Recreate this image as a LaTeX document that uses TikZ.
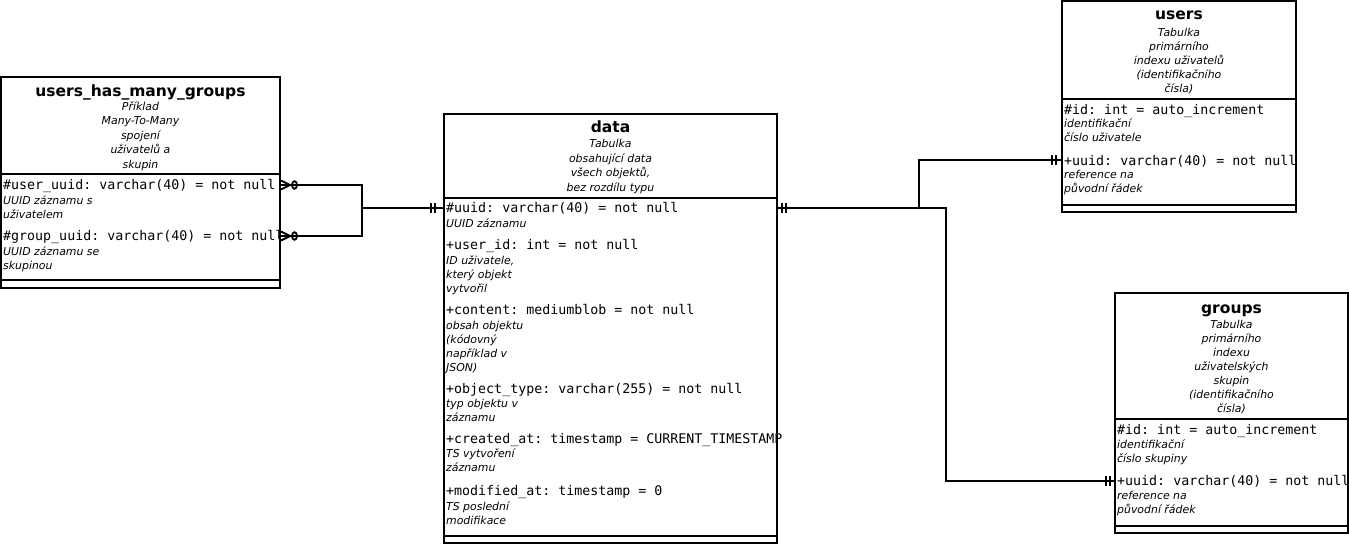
\documentclass[tikz,border=0pt]{standalone}
\usepackage{fontspec}
\setmainfont{DejaVu Sans}
\setmonofont{DejaVu Sans Mono}
\usetikzlibrary{calc}
\newcommand\tlines[6]{\foreach \t [count=\i] in {#6}{\node[#4] (#1\i) at (#2,{#3+#5*(\i-1)}) {\t};}}
\begin{document}
\begin{tikzpicture}[x=1pt,y=-1pt,
 ttl/.style={font=\fontsize{15.5}{18}\selectfont\bfseries, anchor=base, inner sep=0pt},
 sub/.style={font=\fontsize{10.9}{13}\selectfont\itshape, anchor=base, inner sep=0pt},
 cmt/.style={font=\fontsize{10.9}{13}\selectfont\itshape, anchor=base west, inner sep=0pt},
 attr/.style={font=\fontsize{13.3}{16}\selectfont\ttfamily, anchor=base west, inner sep=0pt},
 tbox/.style={draw, line width=2.2pt, inner sep=0pt, outer sep=0pt, anchor=north west},
 sepline/.style={line width=2.2pt},
 conn/.style={line width=2.2pt},
 crow/.pic={\draw[line width=2pt] (1,-4.5) -- (10,0) -- (1,4.5); \draw[line width=1.8pt] (14.5,0) ellipse [x radius=2.5, y radius=3.8];},
 dbar/.pic={\draw[line width=2pt] (-2,-5) -- (-2,5) (2,-5) -- (2,5);}
]
\fill[white] (0,0) rectangle (1349,544);
\useasboundingbox (0,0) rectangle (1349,544);

% users_has_many_groups
\node[ttl] (uhmgT) at (140.5,96.5) {users\_has\_many\_groups};
\tlines{uhmgS}{140.5}{110}{sub}{14.5}{Příklad,Many-To-Many,spojení,uživatelů a,skupin}
\node[attr] (uhmgA1) at (3,189.5) {\#user\_uuid: varchar(40) = not null};
\tlines{uhmgCa}{3}{204}{cmt}{14}{UUID záznamu s,uživatelem}
\node[attr] (uhmgA2) at (3,240.5) {\#group\_uuid: varchar(40) = not null};
\tlines{uhmgCb}{3}{255.7}{cmt}{14}{UUID záznamu se,skupinou}

% data
\node[ttl] (dataT) at (610.5,132.5) {data};
\tlines{dataS}{610.5}{147.3}{sub}{14.7}{Tabulka,obsahující data,{všech objektů,},bez rozdílu typu}
\node[attr] (dataA1) at (446,212.7) {\#uuid: varchar(40) = not null};
\tlines{dataCa}{446}{227.3}{cmt}{14.2}{UUID záznamu}
\node[attr] (dataA2) at (446,249.3) {+user\_id: int = not null};
\tlines{dataCb}{446}{264}{cmt}{14.2}{{ID uživatele,},který objekt,vytvořil}
\node[attr] (dataA3) at (446,314.3) {+content: mediumblob = not null};
\tlines{dataCc}{446}{329}{cmt}{14.1}{obsah objektu,{(kódovný},například v,{JSON)}}
\node[attr] (dataA4) at (446,393.3) {+object\_type: varchar(255) = not null};
\tlines{dataCd}{446}{407.3}{cmt}{14.1}{typ objektu v,záznamu}
\node[attr] (dataA5) at (446,443.3) {+created\_at: timestamp = CURRENT\_TIMESTAMP};
\tlines{dataCe}{446}{457.5}{cmt}{14.1}{TS vytvoření,záznamu}
\node[attr] (dataA6) at (446,495.7) {+modified\_at: timestamp = 0};
\tlines{dataCf}{446}{510}{cmt}{14.1}{TS poslední,modifikace}

% users
\node[ttl] (usersT) at (1179,19.5) {users};
\tlines{usersS}{1179}{36.3}{sub}{14}{Tabulka,primárního,indexu uživatelů,{(identifikačního},{čísla)}}
\node[attr] (usersA1) at (1064,114) {\#id: int = auto\_increment};
\tlines{usersCa}{1064}{127.3}{cmt}{14.4}{identifikační,číslo uživatele}
\node[attr] (usersA2) at (1064,165) {+uuid: varchar(40) = not null};
\tlines{usersCb}{1064}{178}{cmt}{14.3}{reference na,původní řádek}

% groups
\node[ttl] (groupsT) at (1231.5,313.8) {groups};
\tlines{groupsS}{1231.5}{328.3}{sub}{14}{Tabulka,primárního,indexu,uživatelských,skupin,{(identifikačního},{čísla)}}
\node[attr] (groupsA1) at (1117,434) {\#id: int = auto\_increment};
\tlines{groupsCa}{1117}{448.3}{cmt}{14}{identifikační,číslo skupiny}
\node[attr] (groupsA2) at (1117,485.7) {+uuid: varchar(40) = not null};
\tlines{groupsCb}{1117}{499}{cmt}{14.3}{reference na,původní řádek}

% table boxes
\node[tbox, minimum width=279pt, minimum height=211pt] (uhmg) at (1,77) {};
\node[tbox, minimum width=333pt, minimum height=429pt] (data) at (444,114) {};
\node[tbox, minimum width=234pt, minimum height=211pt] (users) at (1062,1) {};
\node[tbox, minimum width=233pt, minimum height=240pt] (groups) at (1115,293) {};

\draw[sepline] (uhmg.west |- 0,174) -- (uhmg.east |- 0,174);
\draw[sepline] (uhmg.west |- 0,280) -- (uhmg.east |- 0,280);
\draw[sepline] (data.west |- 0,198) -- (data.east |- 0,198);
\draw[sepline] (data.west |- 0,536) -- (data.east |- 0,536);
\draw[sepline] (users.west |- 0,99) -- (users.east |- 0,99);
\draw[sepline] (users.west |- 0,205) -- (users.east |- 0,205);
\draw[sepline] (groups.west |- 0,419) -- (groups.east |- 0,419);
\draw[sepline] (groups.west |- 0,526) -- (groups.east |- 0,526);

% connector points
\coordinate (uu) at (uhmg.east |- 0,185);
\coordinate (ug) at (uhmg.east |- 0,236);
\coordinate (j1) at (362,208);
\coordinate (dl) at (data.west |- 0,208);
\coordinate (dr) at (data.east |- 0,208);
\coordinate (j2) at (919,208);
\coordinate (j3) at (946,208);
\coordinate (ul) at (users.west |- 0,160);
\coordinate (gl) at (groups.west |- 0,481);

\draw[conn] (uu) -| (j1) |- (ug);
\draw[conn] (j1) -- (dl);
\draw[conn] (dr) -- (j3) |- (gl);
\draw[conn] (j2) |- (ul);

\pic at (uu) {crow};
\pic at (ug) {crow};
\pic at ($(dl)+(-11,0)$) {dbar};
\pic at ($(dr)+(7,0)$) {dbar};
\pic at ($(ul)+(-8.5,0)$) {dbar};
\pic at ($(gl)+(-7.5,0)$) {dbar};
\end{tikzpicture}
\end{document}
